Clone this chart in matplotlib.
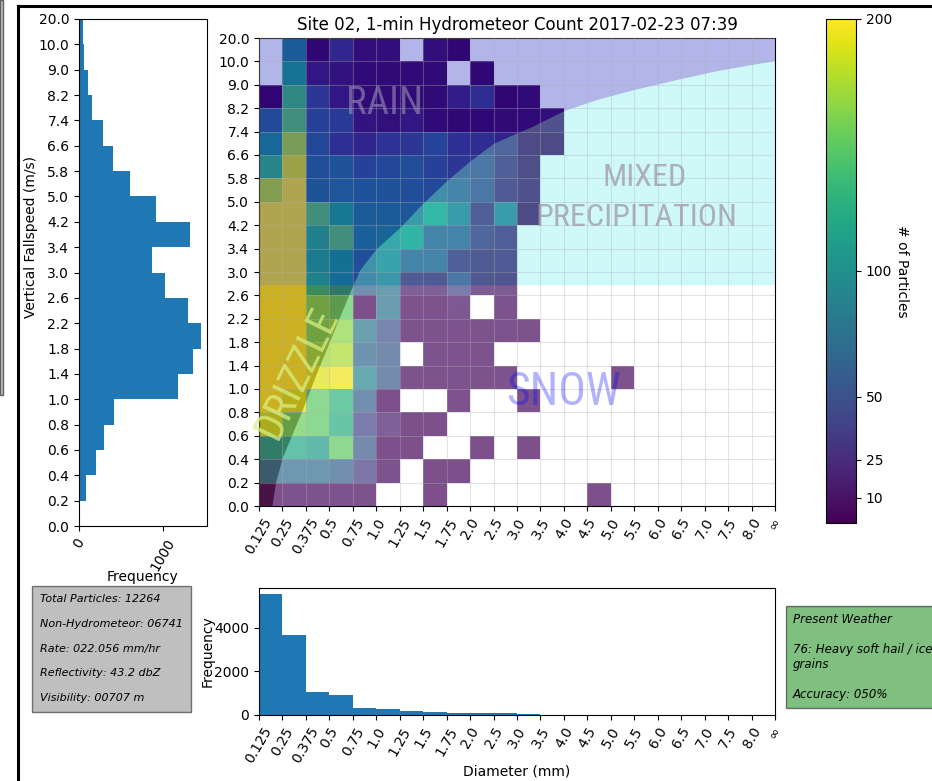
import numpy as np
import matplotlib
matplotlib.use("Agg")
import matplotlib.pyplot as plt
from matplotlib.colors import Normalize
from matplotlib.lines import Line2D
from matplotlib.patches import Rectangle

# bin edge labels as printed on the axes
diam_labels = ["0.125", "0.25", "0.375", "0.5", "0.75", "1.0", "1.25", "1.5", "1.75",
               "2.0", "2.5", "3.0", "3.5", "4.0", "4.5", "5.0", "5.5", "6.0", "6.5",
               "7.0", "7.5", "8.0", "\u221e"]
speed_labels = ["0.0", "0.2", "0.4", "0.6", "0.8", "1.0", "1.4", "1.8", "2.2", "2.6",
                "3.0", "3.4", "4.2", "5.0", "5.8", "6.6", "7.4", "8.2", "9.0", "10.0", "20.0"]

# particle counts per (fallspeed bin, diameter bin), bottom row first
counts = np.array([
    [3, 5, 5, 5, 5, 0, 0, 3, 0, 0, 0, 0, 0, 0, 3, 0, 0, 0, 0, 0, 0, 0],
    [70, 70, 70, 60, 35, 5, 0, 3, 3, 0, 0, 0, 0, 0, 0, 0, 0, 0, 0, 0, 0, 0],
    [110, 120, 110, 150, 55, 3, 3, 0, 0, 3, 0, 3, 0, 0, 0, 0, 0, 0, 0, 0, 0, 0],
    [185, 155, 150, 125, 40, 15, 3, 3, 0, 0, 0, 0, 0, 0, 0, 0, 0, 0, 0, 0, 0, 0],
    [200, 190, 150, 130, 60, 3, 0, 0, 4, 0, 0, 4, 0, 0, 0, 0, 0, 0, 0, 0, 0, 0],
    [200, 200, 190, 195, 90, 55, 5, 5, 5, 5, 5, 0, 0, 0, 0, 4, 0, 0, 0, 0, 0, 0],
    [200, 200, 170, 175, 65, 55, 0, 5, 5, 5, 0, 0, 0, 0, 0, 0, 0, 0, 0, 0, 0, 0],
    [200, 200, 160, 165, 80, 50, 5, 5, 5, 5, 5, 5, 0, 0, 0, 0, 0, 0, 0, 0, 0, 0],
    [200, 200, 160, 150, 3, 75, 5, 5, 8, 0, 5, 0, 0, 0, 0, 0, 0, 0, 0, 0, 0, 0],
    [200, 200, 130, 105, 60, 75, 15, 15, 40, 12, 10, 0, 0, 0, 0, 0, 0, 0, 0, 0, 0, 0],
    [200, 200, 125, 110, 70, 90, 55, 55, 20, 15, 15, 0, 0, 0, 0, 0, 0, 0, 0, 0, 0, 0],
    [200, 200, 130, 150, 90, 95, 110, 55, 55, 25, 20, 0, 0, 0, 0, 0, 0, 0, 0, 0, 0, 0],
    [200, 200, 150, 120, 85, 85, 80, 115, 80, 20, 80, 3, 0, 0, 0, 0, 0, 0, 0, 0, 0, 0],
    [180, 200, 75, 80, 75, 75, 70, 65, 55, 40, 15, 8, 0, 0, 0, 0, 0, 0, 0, 0, 0, 0],
    [135, 190, 70, 75, 55, 62, 68, 55, 45, 40, 20, 5, 0, 0, 0, 0, 0, 0, 0, 0, 0, 0],
    [100, 175, 62, 38, 28, 40, 45, 58, 38, 35, 25, 3, 3, 0, 0, 0, 0, 0, 0, 0, 0, 0],
    [65, 150, 55, 48, 12, 10, 15, 5, 4, 4, 6, 5, 8, 0, 0, 0, 0, 0, 0, 0, 0, 0],
    [2, 140, 45, 15, 6, 5, 5, 5, 20, 35, 2, 5, 0, 0, 0, 0, 0, 0, 0, 0, 0, 0],
    [0, 112, 15, 12, 5, 5, 6, 6, 0, 4, 0, 0, 0, 0, 0, 0, 0, 0, 0, 0, 0, 0],
    [0, 85, 3, 30, 8, 8, 0, 8, 3, 0, 0, 0, 0, 0, 0, 0, 0, 0, 0, 0, 0, 0],
])

# marginal histograms
speed_hist = [12, 83, 198, 298, 417, 1187, 1361, 1456, 1298, 1031,
              869, 1329, 917, 607, 405, 289, 155, 107, 59, 43]
diam_hist = [5545, 3646, 1072, 920, 336, 276, 184, 123, 92, 92, 77,
             31, 5, 3, 3, 3, 0, 0, 0, 0, 0, 0]

# background classification: rain/mixed vs drizzle/snow boundary (bin units)
bound_x = [0.0, 0.55, 0.7, 1.0, 1.8, 2.5, 3.2, 3.9, 4.3, 5.0, 6.0, 7.0, 8.0, 9.0,
           10.0, 11.0, 11.6, 12.2, 13.0, 14.5, 16.0, 17.7, 19.5, 21.8, 22.0]
bound_y = [-1.0, 0.0, 1.0, 2.1, 4.0, 5.8, 7.5, 9.2, 10.1, 11.0, 11.9, 12.95, 13.9, 14.75,
           15.5, 15.95, 16.2, 16.5, 16.9, 17.4, 17.8, 18.2, 18.6, 19.0, 19.05]
split_row = 9.45

info_text = ("Total Particles: 12264\n\nNon-Hydrometeor: 06741\n\nRate: 022.056 mm/hr"
             "\n\nReflectivity: 43.2 dbZ\n\nVisibility: 00707 m")
weather_text = "Present Weather\n\n76: Heavy soft hail / ice\ngrains\n\nAccuracy: 050%"

W, H = 932, 781
fig = plt.figure(figsize=(W / 100, H / 100), dpi=100)


def px(x0, y0, x1, y1):
    return [x0 / W, 1 - y1 / H, (x1 - x0) / W, (y1 - y0) / H]


ax_l = fig.add_axes(px(79, 19, 207, 526))
ax = fig.add_axes(px(259, 38, 775, 506))
cax = fig.add_axes(px(826, 19, 856, 523))
ax_b = fig.add_axes(px(259, 588, 775, 715))

n_d, n_s = len(diam_labels) - 1, len(speed_labels) - 1

# main 2D histogram
mesh = ax.pcolormesh(np.arange(n_d + 1), np.arange(n_s + 1), np.ma.masked_equal(counts, 0),
                     cmap="viridis", norm=Normalize(0, 200), zorder=1)

xs = np.linspace(0, n_d, 1200)
cy = np.interp(xs, bound_x, bound_y)
kw = dict(lw=0, alpha=0.3, zorder=2)
ax.fill_between(xs, np.maximum(cy, split_row), n_s, color="#000ab4", **kw)
ax.fill_between(xs, split_row, np.maximum(cy, split_row), color="#62eeee", **kw)
ax.fill_between(xs, np.clip(cy, 0, split_row), split_row, color="#5a321e", **kw)
ax.fill_between(xs, 0, np.clip(cy, 0, split_row), color="white", **kw)

narrow = dict(family=["Liberation Sans Narrow", "Roboto Condensed", "DejaVu Sans"],
              fontstretch="condensed", ha="center", va="center", zorder=3)
ax.text(5.37, 17.2, "RAIN", fontsize=28, color="#9890b8", alpha=0.6, **narrow)
ax.text(16.45, 14.05, "MIXED", fontsize=23, color="#a098a8", alpha=0.75, **narrow)
ax.text(16.1, 12.35, "PRECIPITATION", fontsize=23, color="#a098a8", alpha=0.75, **narrow)
ax.text(13.0, 4.87, "SNOW", fontsize=33, color="blue", alpha=0.3, **narrow)
ax.text(1.62, 5.68, "DRIZZLE", fontsize=30, color="#d8f080", alpha=0.75, rotation=64, **narrow)

ax.set_xlim(0, n_d)
ax.set_ylim(0, n_s)
ax.set_xticks(range(n_d + 1))
ax.set_xticklabels(diam_labels, rotation=60)
ax.set_yticks(range(n_s + 1))
ax.set_yticklabels(speed_labels)
ax.grid(True, color="#b0b0b0", alpha=0.35, lw=0.8)
ax.set_axisbelow(False)
ax.set_title("Site 02, 1-min Hydrometeor Count 2017-02-23 07:39", fontsize=12)

cb = fig.colorbar(mesh, cax=cax, ticks=[10, 25, 50, 100, 200])
cb.set_label("# of Particles", rotation=270, labelpad=12)

# fallspeed histogram (left)
ax_l.barh(np.arange(n_s), speed_hist, height=1, align="edge", color="C0")
ax_l.set_ylim(0, n_s)
ax_l.set_yticks(range(n_s + 1))
ax_l.set_yticklabels(speed_labels)
ax_l.set_xticks([0, 1000])
ax_l.set_xticklabels(["0", "1000"], rotation=60)
ax_l.set_xlabel("Frequency", labelpad=-2)
fig.text(31 / W, 1 - 237 / H, "Vertical Fallspeed (m/s)", rotation=90, ha="center", va="center",
         fontsize=10)

# diameter histogram (bottom)
ax_b.bar(np.arange(n_d), diam_hist, width=1, align="edge", color="C0")
ax_b.set_xlim(0, n_d)
ax_b.set_xticks(range(n_d + 1))
ax_b.set_xticklabels(diam_labels, rotation=60)
ax_b.set_xlabel("Diameter (mm)", labelpad=-1)
ax_b.set_ylabel("Frequency", labelpad=0)

# info boxes
fig.text(40 / W, 1 - 594 / H, info_text, style="italic", fontsize=8, linespacing=1.3,
         ha="left", va="top", bbox=dict(facecolor="gray", alpha=0.5, pad=6))
fig.text(793 / W, 1 - 613 / H, weather_text, style="italic", fontsize=8.5, ha="left", va="top",
         bbox=dict(facecolor="green", alpha=0.5, pad=5))

# window frame around the figure
fig.add_artist(Line2D([18 / W, 1], [1 - 6 / H, 1 - 6 / H], color="black", lw=2.2))
fig.add_artist(Line2D([18 / W, 18 / W], [0, 1 - 6 / H], color="black", lw=2.2))
fig.add_artist(Rectangle((0, 1 - 395 / H), 3 / W, 395 / H, facecolor="#c0c0c0",
                         edgecolor="#606060", lw=1))

fig.savefig("out.png", dpi=100)
